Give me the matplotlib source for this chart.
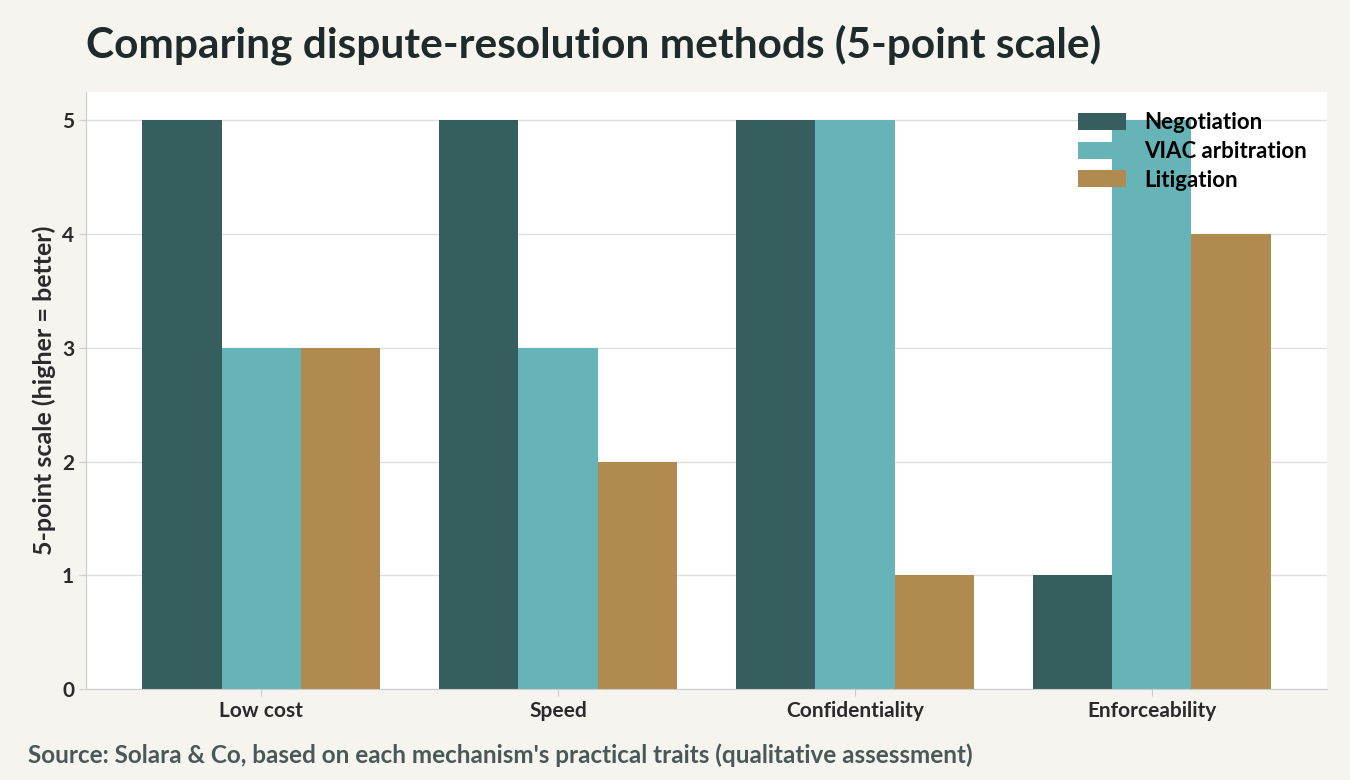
import matplotlib
matplotlib.use("Agg")
import matplotlib.pyplot as plt
import numpy as np

categories = ["Low cost", "Speed", "Confidentiality", "Enforceability"]
series_names = ["Negotiation", "VIAC arbitration", "Litigation"]
negotiation = [5, 5, 5, 1]
viac = [3, 3, 5, 5]
litigation = [3, 2, 1, 4]
yticks = [0, 1, 2, 3, 4, 5]

plt.rcParams['font.family'] = ['Lato', 'DejaVu Sans']
fig = plt.figure(figsize=(13.5, 7.8), dpi=100, facecolor="#f5f4ef")
ax = fig.add_axes([86/1350, 1-689/780, (1327-86)/1350, (689-92)/780])
ax.set_facecolor("white")
colors = ["#365e5e", "#66b4b8", "#b08a4e"]
x = np.arange(len(categories))
w = 0.8/3
for i, (vals, name) in enumerate(zip([negotiation, viac, litigation], series_names)):
    ax.bar(x + (i-1)*w, vals, w, color=colors[i], label=name, zorder=2)
ax.set_xlim(-0.59, 3.59)
ax.set_ylim(0, 5.25)
ax.set_yticks(yticks)
ax.set_xticks(x)
ax.set_xticklabels(categories)
ax.tick_params(axis="both", labelsize=15, colors="#2a2a2a", length=5, color="#cccccc")
for t in ax.get_yticklabels() + ax.get_xticklabels():
    t.set_fontweight("bold")
    t.set_color("#2a2a2a")
ax.grid(axis="y", color="#dde0e0", lw=1, zorder=0)
for s in ["top", "right"]:
    ax.spines[s].set_visible(False)
for s in ["left", "bottom"]:
    ax.spines[s].set_color("#cccccc")
ax.set_ylabel("5-point scale (higher = better)", fontsize=18, fontweight="bold", color="#2a2a2a")
leg = ax.legend(loc="upper right", frameon=False, prop={"size": 16, "weight": "bold"},
                handlelength=2.2, handleheight=0.8, labelspacing=0.35, borderaxespad=0.5)
fig.text(86/1350, 1-45/780, "Comparing dispute-resolution methods (5-point scale)",
         fontsize=30.5, fontweight="bold", color="#1f2a2a", va="center")
fig.text(28/1350, 1-755/780,
         "Source: Solara & Co, based on each mechanism's practical traits (qualitative assessment)",
         fontsize=17.5, fontweight="bold", color="#4a5858", va="center")
fig.savefig("out.png", dpi=100, facecolor=fig.get_facecolor())
